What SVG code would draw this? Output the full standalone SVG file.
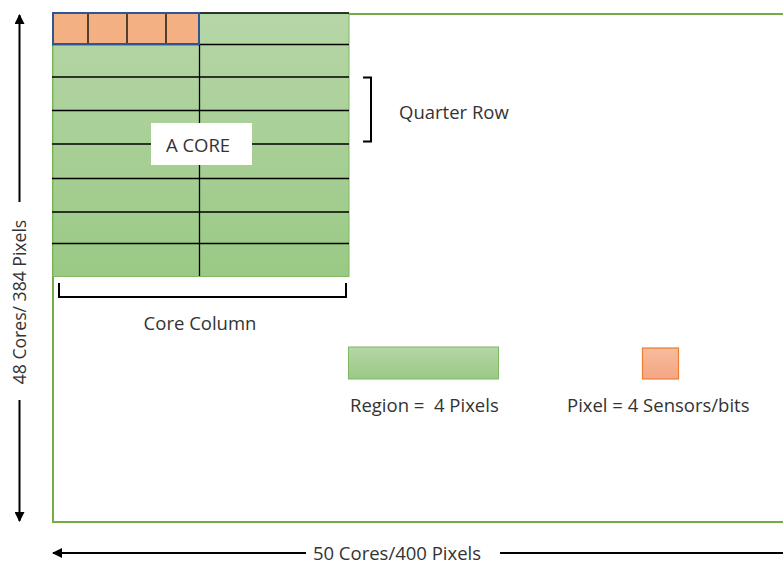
<svg xmlns="http://www.w3.org/2000/svg" width="783" height="566" viewBox="0 0 783 566">
<defs>
<linearGradient id="gG" x1="0" y1="0" x2="0" y2="1"><stop offset="0" stop-color="#b6d6a7"/><stop offset="1" stop-color="#9ac985"/></linearGradient>
<linearGradient id="gO" x1="0" y1="0" x2="0" y2="1"><stop offset="0" stop-color="#f6bc9c"/><stop offset="1" stop-color="#f4a684"/></linearGradient>
<marker id="ah" viewBox="0 0 10 10" refX="9" refY="5" markerWidth="10" markerHeight="10" markerUnits="userSpaceOnUse" orient="auto"><path d="M0,0 L10,5 L0,10 Z" fill="#000"/></marker>
</defs>
<style>
text{font-family:"Open Sans","Liberation Sans",Arial,sans-serif;font-size:18.5px;fill:#333;white-space:pre}
.g{stroke:#000;stroke-width:1.3}
.br{fill:none;stroke:#000;stroke-width:2}
.ar{stroke:#000;stroke-width:2;fill:none}
</style>
<rect width="783" height="566" fill="#fff"/>
<g id="chip"><rect x="53" y="14" width="760" height="508" fill="none" stroke="#70ad47" stroke-width="2"/></g>
<g id="core-grid">
<rect x="53" y="13" width="296" height="263.5" fill="url(#gG)" stroke="#7fb860" stroke-width="1"/>
<line class="g" x1="199" y1="13" x2="349" y2="13"/>
<line class="g" x1="52" y1="44.5" x2="349" y2="44.5"/>
<line class="g" x1="52" y1="77" x2="349" y2="77"/>
<line class="g" x1="52" y1="110.5" x2="349" y2="110.5"/>
<line class="g" x1="52" y1="144" x2="349" y2="144"/>
<line class="g" x1="52" y1="178.5" x2="349" y2="178.5"/>
<line class="g" x1="52" y1="212" x2="349" y2="212"/>
<line class="g" x1="52" y1="243.5" x2="349" y2="243.5"/>
<line class="g" x1="199.5" y1="44" x2="199.5" y2="276"/>
</g>
<g id="pixels">
<rect x="53" y="13" width="146" height="31" fill="#f3b183"/>
<line class="g" x1="88" y1="13" x2="88" y2="44"/>
<line class="g" x1="127" y1="13" x2="127" y2="44"/>
<line class="g" x1="166" y1="13" x2="166" y2="44"/>
<rect x="53" y="13" width="146" height="31" fill="none" stroke="#2f5597" stroke-width="2"/>
</g>
<g id="a-core">
<rect x="151" y="123" width="101" height="42" fill="#fff"/>
<text x="198" y="151.5" text-anchor="middle">A CORE</text>
</g>
<g id="quarter-row">
<path class="br" d="M363,77.5 H371 V141.5 H363"/>
<text x="399" y="119">Quarter Row</text>
</g>
<g id="core-column">
<path class="br" d="M59,283 V297 H346 V283"/>
<text x="200" y="330" text-anchor="middle">Core Column</text>
</g>
<g id="legend-region">
<rect x="348.5" y="347" width="150" height="32" fill="url(#gG)" stroke="#7fb860" stroke-width="1"/>
<text x="350" y="412">Region =  4 Pixels</text>
</g>
<g id="legend-pixel">
<rect x="642.5" y="348" width="36" height="31" fill="url(#gO)" stroke="#ed7d31" stroke-width="1.2"/>
<text x="567" y="412">Pixel = 4 Sensors/bits</text>
</g>
<g id="connectors">
<line class="ar" x1="19.5" y1="202" x2="19.5" y2="15" marker-end="url(#ah)"/>
<line class="ar" x1="19.5" y1="400" x2="19.5" y2="521" marker-end="url(#ah)"/>
<line class="ar" x1="306" y1="553" x2="53" y2="553" marker-end="url(#ah)"/>
<line class="ar" x1="500" y1="553" x2="790" y2="553"/>
</g>
<text x="0" y="0" transform="translate(26,302) rotate(-90)" text-anchor="middle" style="font-size:17.6px">48 Cores/ 384 Pixels</text>
<text x="397" y="560" text-anchor="middle">50 Cores/400 Pixels</text>
</svg>
